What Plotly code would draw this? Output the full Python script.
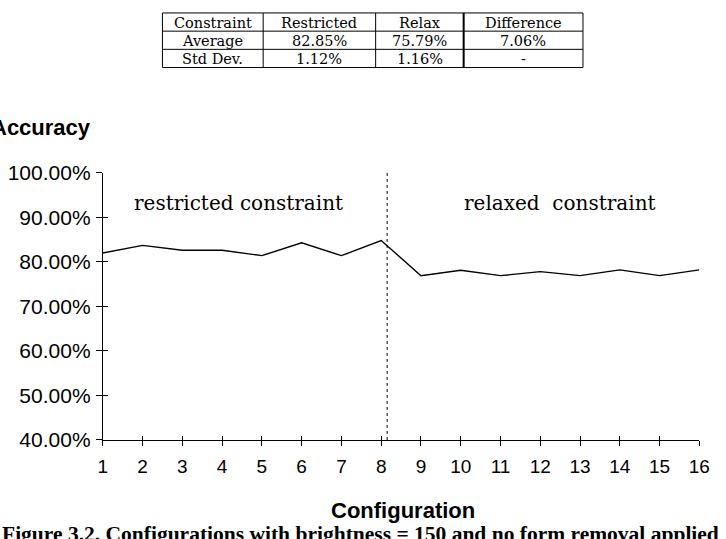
import plotly.graph_objects as go

# ---------------- data ----------------
config = list(range(1, 17))
accuracy = [82.0, 83.7, 82.6, 82.6, 81.4, 84.3, 81.4, 84.8,
            76.9, 78.1, 76.9, 77.8, 76.9, 78.2, 76.9, 78.2]
x_tick_labels = [str(c) for c in config]
y_ticks = [40, 50, 60, 70, 80, 90, 100]
y_tick_labels = ["40.00%", "50.00%", "60.00%", "70.00%", "80.00%", "90.00%", "100.00%"]
split_at = 8.15
region_labels = ["restricted constraint", "relaxed\u00a0 constraint"]

table_header = ["Constraint", "Restricted", "Relax", "Difference"]
table_row_average = ["Average", "82.85%", "75.79%", "7.06%"]
table_row_stddev = ["Std Dev.", "1.12%", "1.16%", "-"]

# ---------------- layout helpers ----------------
W, H = 726, 539
def px(x):
    return x / W
def py(y):
    return 1 - y / H

SANS = "Liberation Sans, Arial, sans-serif"
SERIF = "DejaVu Serif, serif"
TIMES = "Liberation Serif, Times New Roman, serif"

fig = go.Figure()

fig.add_trace(go.Scatter(
    x=config, y=accuracy, mode="lines",
    line=dict(color="black", width=1.4),
    showlegend=False, hoverinfo="skip",
))
# invisible trace to activate the overlay axes (for ticks crossing the axis line)
fig.add_trace(go.Scatter(
    x=config, y=accuracy, mode="markers", marker=dict(opacity=0),
    xaxis="x2", yaxis="y2", showlegend=False, hoverinfo="skip",
))

xdom = [px(100), px(710)]
ydom = [py(447), py(168)]

fig.update_layout(
    width=W, height=H,
    margin=dict(l=0, r=0, t=0, b=0),
    paper_bgcolor="white", plot_bgcolor="white",
    xaxis=dict(domain=xdom, range=[1, 16], tickmode="array", tickvals=config,
               ticktext=x_tick_labels, ticks="outside", ticklen=5, tickcolor="black",
               showline=True, linecolor="black", linewidth=1, showgrid=False,
               zeroline=False, ticklabelstandoff=4,
               tickfont=dict(family=SANS, size=19, color="black")),
    yaxis=dict(domain=ydom, range=[40, 100], tickmode="array", tickvals=y_ticks,
               ticktext=y_tick_labels, ticks="outside", ticklen=6, tickcolor="black",
               showline=True, linecolor="black", linewidth=1, showgrid=False,
               zeroline=False, ticklabelstandoff=1,
               tickfont=dict(family=SANS, size=21, color="black")),
    xaxis2=dict(domain=xdom, overlaying="x", matches="x", anchor="y2",
                tickmode="array", tickvals=config, ticks="inside", ticklen=4,
                tickcolor="black", showticklabels=False, showline=False,
                showgrid=False, zeroline=False),
    yaxis2=dict(domain=ydom, overlaying="y", matches="y", anchor="x2",
                tickmode="array", tickvals=y_ticks, ticks="inside", ticklen=5,
                tickcolor="black", showticklabels=False, showline=False,
                showgrid=False, zeroline=False),
)

fig.add_shape(type="line", x0=split_at, x1=split_at, y0=0, y1=1,
              xref="x", yref="y domain",
              line=dict(color="black", width=1, dash="dot"))

def note(text, x, y, size, family, xanchor="center"):
    return dict(text=text, x=px(x), y=py(y), xref="paper", yref="paper",
                xanchor=xanchor, yanchor="middle", showarrow=False,
                font=dict(family=family, size=size, color="black"))

annotations = [
    note(region_labels[0], 239, 200, 20, SERIF),
    note(region_labels[1], 568, 200, 20, SERIF),
    note("<b>Accuracy</b>", 90, 121, 22, SANS, xanchor="right"),
    note("<b>Configuration</b>", 407, 521, 22, SANS),
    note("<b>Figure 3.2. Configurations with brightness = 150 and no form removal applied</b>",
         364, 545, 21.5, TIMES),
]

# ---------------- summary table (grid + text) ----------------
col_edges = [161, 264, 379, 469, 591]
row_edges = [1, 20, 39, 58]
table_rows = [table_header, table_row_average, table_row_stddev]
for i, xe in enumerate(col_edges):
    fig.add_shape(type="line", xref="paper", yref="paper",
                  x0=px(xe), x1=px(xe), y0=py(row_edges[0]), y1=py(row_edges[-1]),
                  line=dict(color="black", width=2 if i == 3 else 1))
for ye in row_edges:
    fig.add_shape(type="line", xref="paper", yref="paper",
                  x0=px(col_edges[0]), x1=px(col_edges[-1]), y0=py(ye), y1=py(ye),
                  line=dict(color="black", width=1))
for r, row in enumerate(table_rows):
    yc = (row_edges[r] + row_edges[r + 1]) / 2
    for c, txt in enumerate(row):
        xc = (col_edges[c] + col_edges[c + 1]) / 2
        annotations.append(note(txt, xc, yc + 0.5, 14.5, SERIF))

fig.update_layout(annotations=annotations)

fig.write_html("out.html")
